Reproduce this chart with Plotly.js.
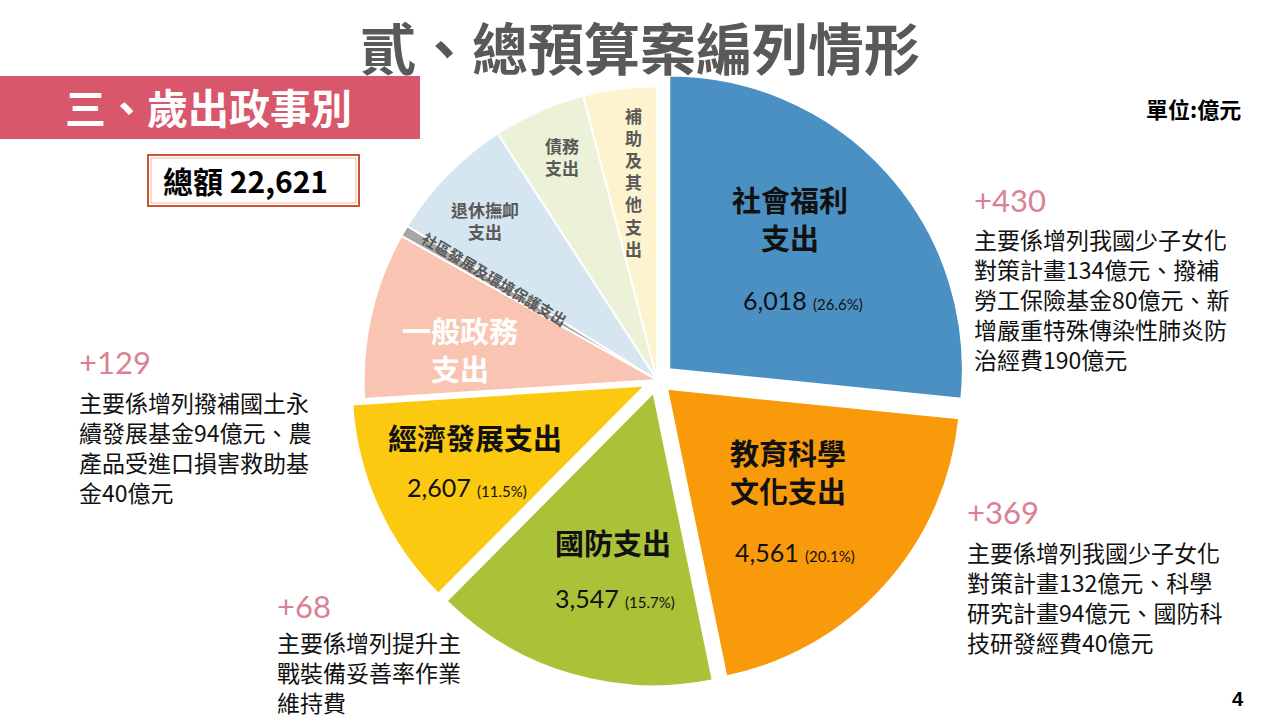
<!DOCTYPE html>
<html>
<head>
<meta charset="utf-8">
<script src="https://cdn.plot.ly/plotly-3.0.1.min.js"></script>
<style>html,body{margin:0;padding:0;background:#fff;}#chart{width:1280px;height:720px;}</style>
</head>
<body>
<div id="chart"></div>
<script>
// ---- data ----
const categories = ["社會福利支出","教育科學文化支出","國防支出","經濟發展支出","一般政務支出","社區發展及環境保護支出","退休撫卹支出","債務支出","補助及其他支出"];
const values = [6018, 4561, 3547, 2607, 2080, 140, 1600, 1150, 918];
const sharePct = ["26.6%","20.1%","15.7%","11.5%","","","","",""];
const increases = ["+430","+369","+68","+129"];
const notes = [
  "主要係增列我國少子女化<br>對策計畫134億元、撥補<br>勞工保險基金80億元、新<br>增嚴重特殊傳染性肺炎防<br>治經費190億元",
  "主要係增列我國少子女化<br>對策計畫132億元、科學<br>研究計畫94億元、國防科<br>技研發經費40億元",
  "主要係增列提升主<br>戰裝備妥善率作業<br>維持費",
  "主要係增列撥補國土永<br>續發展基金94億元、農<br>產品受進口損害救助基<br>金40億元"
];
const totalLabel = "總額 22,621";
const unitLabel = "單位:億元";

// ---- styles ----
const sliceColors = ["#4a90c2","#f99a0b","#aac238","#fbc90f","#f9c4b2","#a6a6a6","#d6e6f1","#ecf2d8","#fef3cf"];
const pulls = [0.055,0.045,0.045,0.045,0,0,0,0,0];
const W = 1280, H = 720;
const px = x => x / W, py = y => 1 - y / H;
const CJK = "Noto Sans CJK TC, Noto Sans CJK SC, sans-serif";
const fmt = v => v.toLocaleString("en-US");

const trace = {
  type: "pie",
  labels: categories,
  values: values,
  sort: false,
  direction: "clockwise",
  rotation: 0,
  pull: pulls,
  textinfo: "none",
  hoverinfo: "label+value+percent",
  marker: {colors: sliceColors, line: {color: "#ffffff", width: 2}},
  domain: {x: [0.2715, 0.7555], y: [0.0417, 0.9028]},
  showlegend: false
};

const ann = [];
function A(text, x, y, size, color, opts) {
  ann.push(Object.assign({text: text, x: px(x), y: py(y), xref: "paper", yref: "paper",
    showarrow: false, font: {family: CJK, size: size, color: color}, xanchor: "center", yanchor: "middle"}, opts || {}));
}
// titles
A("<b>貳、總預算案編列情形</b>", 640, 45, 56, "#595959");
A("<b>三、歲出政事別</b>", 208, 106, 41, "#ffffff");
A("<b>" + totalLabel + "</b>", 245, 180, 30, "#000000");
A("<b>" + unitLabel + "</b>", 1193, 108, 22, "#000000");
A("<b>4</b>", 1238, 699, 20, "#000000", {font: {family: "Liberation Sans, sans-serif", size: 20, color: "#000"}});

// slice labels (big)
const numFont = "Lato, Noto Sans, sans-serif";
function valLabel(i) { return fmt(values[i]) + " <span style='font-size:15px'>(" + sharePct[i] + ")</span>"; }
const numOpts = {font: {family: numFont, size: 25, color: "#111"}};
A("<b>社會福利<br>支出</b>", 790, 218, 29, "#111111", {align: "center"});
A(valLabel(0), 803, 300, 25, "#111111", numOpts);
A("<b>教育科學<br>文化支出</b>", 788, 471, 29, "#111111", {align: "center"});
A(valLabel(1), 795, 552, 25, "#111111", numOpts);
A("<b>國防支出</b>", 613, 542, 29, "#111111");
A(valLabel(2), 615, 598, 25, "#111111", numOpts);
A("<b>經濟發展支出</b>", 475, 437, 29, "#111111");
A(valLabel(3), 467, 487, 25, "#111111", numOpts);
A("<b>一般政務<br>支出</b>", 460, 349, 29, "#ffffff", {align: "center"});
// small slices
A("<b>退休撫卹<br>支出</b>", 485, 220, 17, "#595959", {align: "center"});
A("<b>債務<br>支出</b>", 562, 156, 17, "#595959", {align: "center"});
A("<b>補<br>助<br>及<br>其<br>他<br>支<br>出</b>", 633, 182, 17, "#595959", {align: "center"});
A("<b>社區發展及環境保護支出</b>", 494, 279, 15, "#595959", {textangle: 31});

// notes
const notePos = [[972, 200, 235], [965, 512, 548], [275, 606, 638], [77, 362, 398]];
for (let i = 0; i < notes.length; i++) {
  const p = notePos[i];
  A(increases[i], p[0], p[1], 31, "#d98293", {xanchor: "left", font: {family: numFont, size: 31, color: "#d98293"}});
  A(notes[i], p[0], p[2] - 15, 23, "#111111", {xanchor: "left", yanchor: "top", align: "left"});
}

const layout = {
  width: W, height: H,
  margin: {l: 0, r: 0, t: 0, b: 0},
  paper_bgcolor: "#ffffff",
  annotations: ann,
  shapes: [
    {type: "rect", xref: "paper", yref: "paper", x0: 0, x1: px(420), y0: py(139), y1: py(76), fillcolor: "#d9576b", line: {width: 0}, layer: "below"},
    {type: "rect", xref: "paper", yref: "paper", x0: px(148), x1: px(359), y0: py(206), y1: py(155), fillcolor: "rgba(0,0,0,0)", line: {color: "#c65530", width: 2}},
    {type: "rect", xref: "paper", yref: "paper", x0: px(151), x1: px(356), y0: py(203), y1: py(158), fillcolor: "rgba(0,0,0,0)", line: {color: "#e8b8a8", width: 1}}
  ]
};

Plotly.newPlot("chart", [trace], layout, {displayModeBar: false, staticPlot: true});
</script>
</body>
</html>
